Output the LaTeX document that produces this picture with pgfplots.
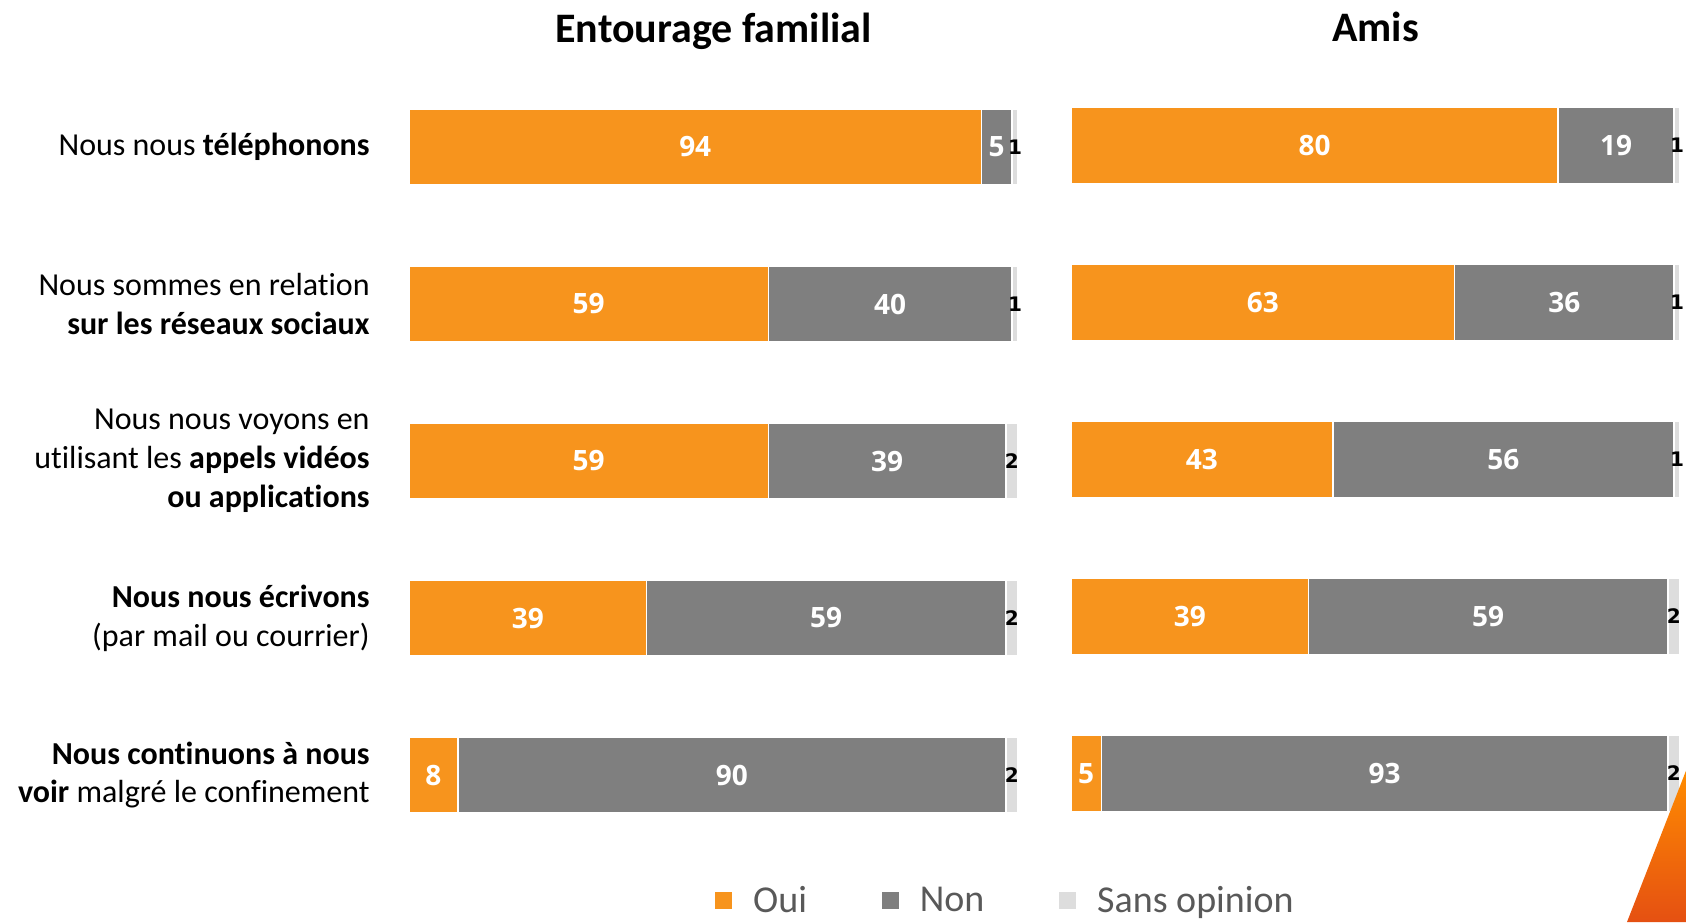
\documentclass[border=0pt]{standalone}
\usepackage{fontspec}
\setmainfont{Carlito}[Ligatures={NoCommon}]
\newfontfamily\valfont{Open Sans}
\newfontfamily\smallfont{DejaVu Sans}
\usepackage{pgfplots}
\usepackage{pgfplotstable}
\pgfplotsset{compat=1.18}
\definecolor{ouic}{HTML}{F7941D}
\definecolor{nonc}{HTML}{7F7F7F}
\definecolor{sansc}{HTML}{DDDDDD}
\definecolor{legc}{HTML}{595959}

\pgfplotstableread{
row oui non sans
0 94 5 1
1 59 40 1
2 59 39 2
3 39 59 2
4 8 90 2
}\famdata
\pgfplotstableread{
row oui non sans
0 80 19 1
1 63 36 1
2 43 56 1
3 39 59 2
4 5 93 2
}\amisdata

\pgfplotsset{
  panel/.style={
    scale only axis, width=304.5pt, height=392.5pt,
    xmin=0, xmax=100, ymin=-0.5, ymax=4.5, y dir=reverse,
    axis line style={draw=none}, xtick=\empty, major tick length=0pt,
    bar width=38pt, clip=false,
    title style={at={(0.5,1)}, anchor=base, yshift=7pt, font=\bfseries\fontsize{21}{25}\selectfont},
  },
  segbar/.style={xbar, draw=white, line width=0.8pt, forget plot},
  whitelab/.style={only marks, mark=*, mark size=0pt, draw=none, fill=none, forget plot,
    nodes near coords, point meta=explicit symbolic,
    every node near coord/.append style={anchor=center, text=white, inner sep=0pt,
      font=\valfont\bfseries\fontsize{14}{16}\selectfont}},
  blacklab/.style={only marks, mark=*, mark size=0pt, draw=none, fill=none, forget plot,
    nodes near coords, point meta=explicit symbolic,
    every node near coord/.append style={anchor=center, text=black, inner sep=0pt,
      font=\smallfont\bfseries\fontsize{10}{12}\selectfont}},
}

\begin{document}
\begin{tikzpicture}
\useasboundingbox (0pt,0pt) rectangle (843pt,461pt);

\begin{axis}[panel, at={(204.5pt,34.25pt)}, anchor=south west,
  title={Entourage familial},
  ytick={0,1,2,3,4},
  yticklabels={
    {Nous nous \textbf{téléphonons}},
    {Nous sommes en relation\\\textbf{sur les réseaux sociaux}},
    {Nous nous voyons en\\utilisant les \textbf{appels vidéos}\\\textbf{ou applications}},
    {\textbf{Nous nous écrivons}\\(par mail ou courrier)},
    {\textbf{Nous continuons à nous}\\\textbf{voir} malgré le confinement}},
  yticklabel style={align=right, inner sep=0pt, xshift=-19.5pt, font=\fontsize{16}{19.4}\selectfont},
  legend columns=-1,
  legend style={at={(0.5025,-0.06)}, anchor=west, draw=none, fill=none, inner sep=0pt,
    font=\fontsize{19}{23}\selectfont, text=legc,
    nodes={inner sep=0pt},
    /tikz/every odd column/.append style={column sep=10.5pt},
    /tikz/every even column/.append style={column sep=37.5pt}},
]
\addplot[segbar, fill=sansc] table[y=row, x expr=\thisrow{oui}+\thisrow{non}+\thisrow{sans}] {\famdata};
\addplot[segbar, fill=nonc] table[y=row, x expr=\thisrow{oui}+\thisrow{non}] {\famdata};
\addplot[segbar, fill=ouic] table[y=row, x=oui] {\famdata};
\addplot[whitelab] table[y=row, x expr=\thisrow{oui}/2, meta=oui] {\famdata};
\addplot[whitelab] table[y=row, x expr=\thisrow{oui}+\thisrow{non}/2, meta=non] {\famdata};
\addplot[blacklab] table[y=row, x expr=\thisrow{oui}+\thisrow{non}+\thisrow{sans}/2, meta=sans] {\famdata};
\addlegendimage{legend image code/.code={\fill[ouic] (0pt,-4pt) rectangle (8pt,4pt);}}
\addlegendentry{Oui}
\addlegendimage{legend image code/.code={\fill[nonc] (0pt,-4pt) rectangle (8pt,4pt);}}
\addlegendentry{Non}
\addlegendimage{legend image code/.code={\fill[sansc] (0pt,-4pt) rectangle (8pt,4pt);}}
\addlegendentry{Sans opinion}
\end{axis}

\begin{axis}[panel, at={(535.5pt,35pt)}, anchor=south west,
  title={Amis}, ytick=\empty]
\addplot[segbar, fill=sansc] table[y=row, x expr=\thisrow{oui}+\thisrow{non}+\thisrow{sans}] {\amisdata};
\addplot[segbar, fill=nonc] table[y=row, x expr=\thisrow{oui}+\thisrow{non}] {\amisdata};
\addplot[segbar, fill=ouic] table[y=row, x=oui] {\amisdata};
\addplot[whitelab] table[y=row, x expr=\thisrow{oui}/2, meta=oui] {\amisdata};
\addplot[whitelab] table[y=row, x expr=\thisrow{oui}+\thisrow{non}/2, meta=non] {\amisdata};
\addplot[blacklab] table[y=row, x expr=\thisrow{oui}+\thisrow{non}+\thisrow{sans}/2, meta=sans] {\amisdata};
\end{axis}

\shade[top color=orange!90!yellow, bottom color={rgb,255:red,229;green,80;blue,18}]
  (813.5pt,0pt) -- (843pt,0pt) -- (843pt,75.65pt) -- cycle;
\end{tikzpicture}
\end{document}
